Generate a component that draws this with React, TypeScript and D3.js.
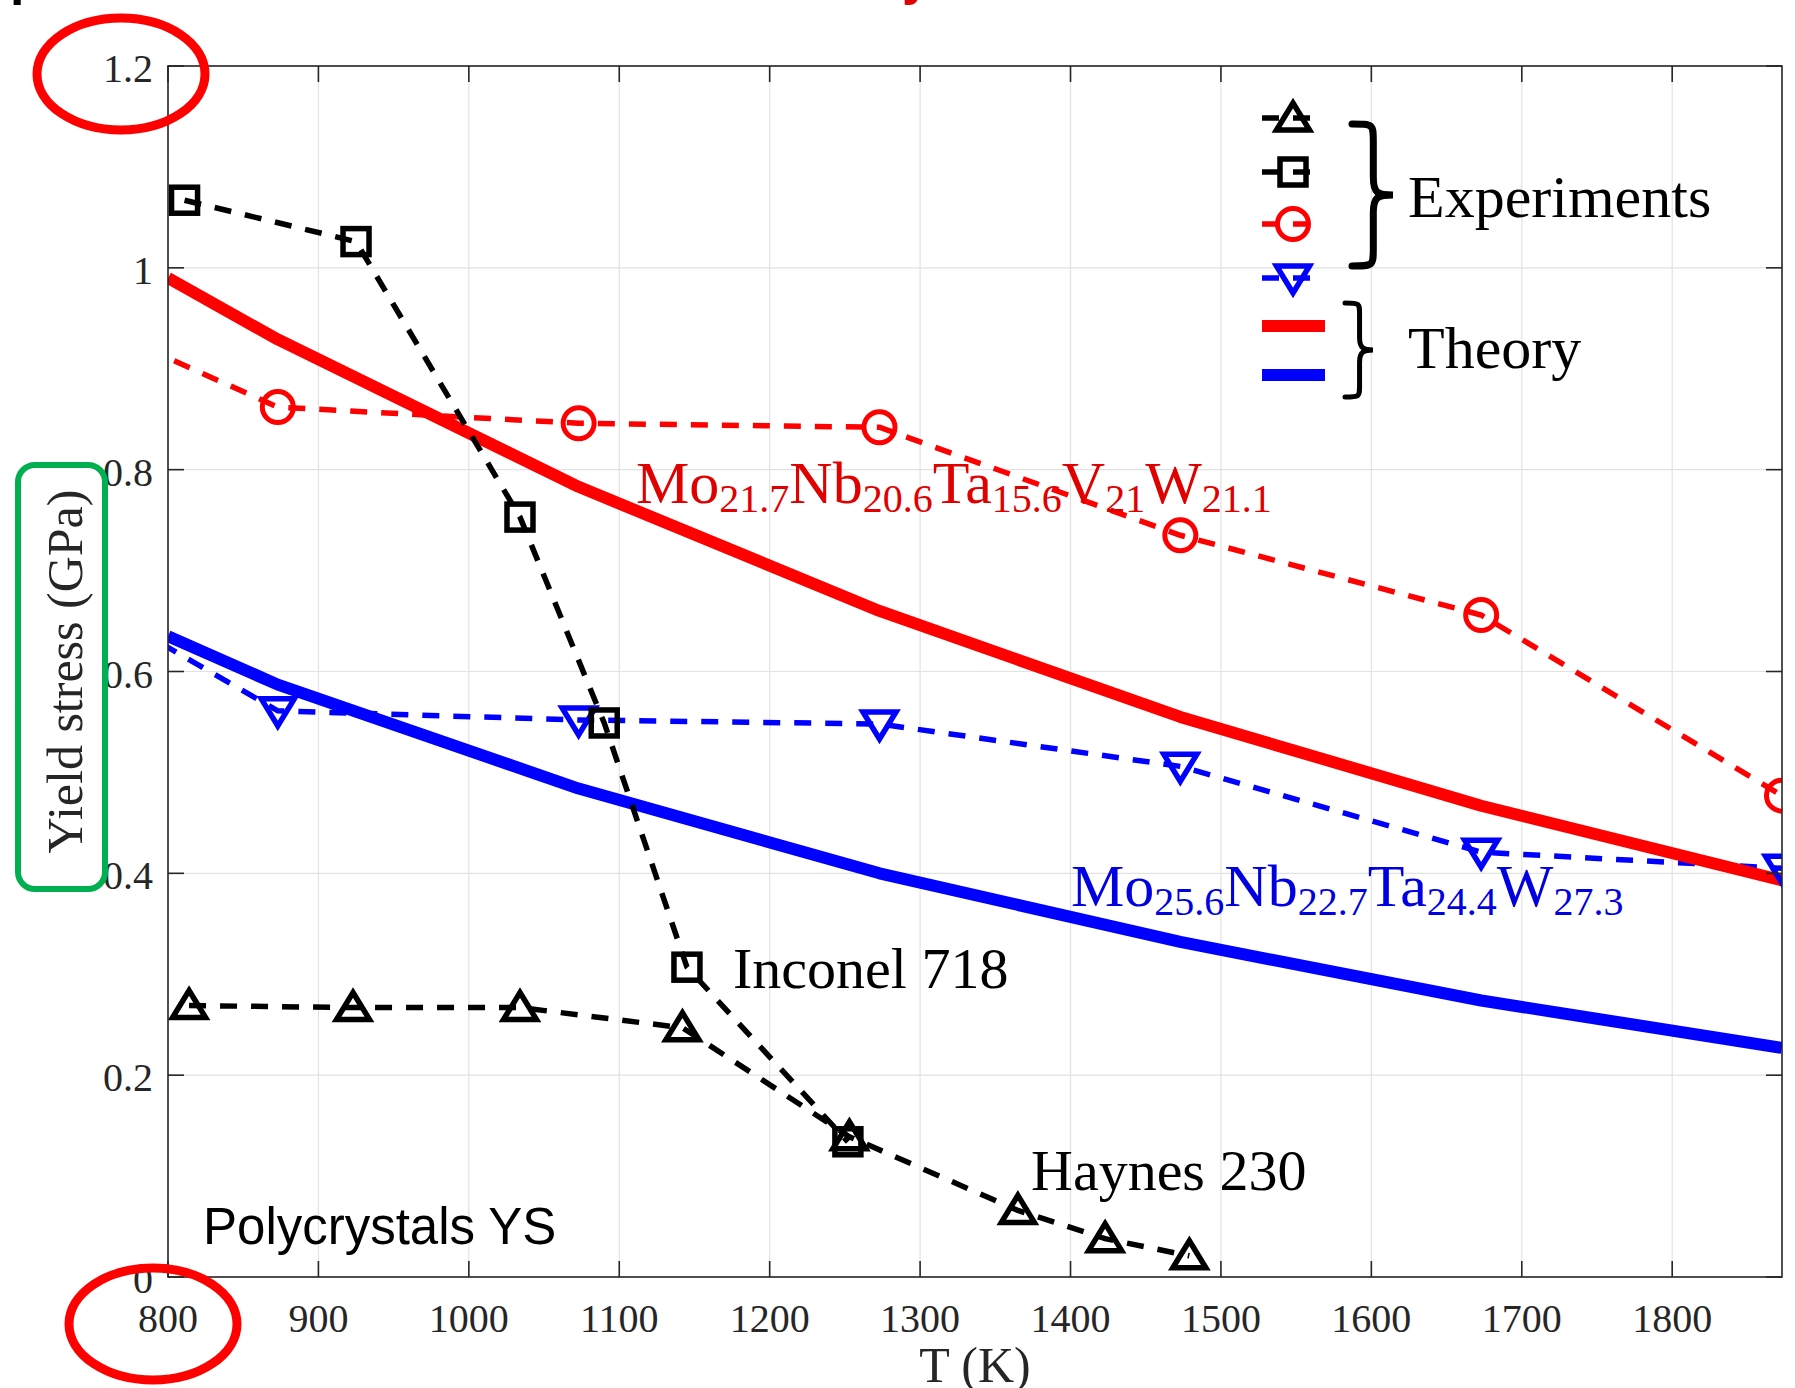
import React from "react";
import * as d3 from "d3";

// ---------- data ----------
const X_TICKS = [800, 900, 1000, 1100, 1200, 1300, 1400, 1500, 1600, 1700, 1800];
const Y_TICKS = [0, 0.2, 0.4, 0.6, 0.8, 1, 1.2];
const Y_TICK_LABELS = ["0", "0.2", "0.4", "0.6", "0.8", "1", "1.2"];

// Experiments (yield stress, GPa)
const T_HEA = [296, 873, 1073, 1273, 1473, 1673, 1873];
const MoNbTaVW_EXP = [1.246, 0.862, 0.846, 0.842, 0.735, 0.656, 0.477];
const MoNbTaW_EXP = [1.058, 0.561, 0.552, 0.548, 0.506, 0.421, 0.405];

const T_INCONEL = [811, 925, 1034, 1090, 1145, 1252];
const INCONEL_718 = [1.067, 1.026, 0.753, 0.549, 0.307, 0.134];

const T_HAYNES = [814, 923, 1034, 1142, 1253, 1365, 1423, 1479];
const HAYNES_230 = [0.269, 0.267, 0.267, 0.247, 0.139, 0.066, 0.038, 0.021];

// Theory
const T_THEORY = [800, 873, 1073, 1273, 1473, 1673, 1873];
const MoNbTaVW_TH = [0.99, 0.929, 0.783, 0.66, 0.555, 0.467, 0.393];
const MoNbTaW_TH = [0.635, 0.587, 0.484, 0.4, 0.332, 0.274, 0.227];

const RED_FORMULA = [["Mo", "21.7"], ["Nb", "20.6"], ["Ta", "15.6"], ["V", "21"], ["W", "21.1"]];
const BLUE_FORMULA = [["Mo", "25.6"], ["Nb", "22.7"], ["Ta", "24.4"], ["W", "27.3"]];

// ---------- layout ----------
const W = 1795;
const H = 1388;
const L = 168, R = 1782, TOP = 66, BOT = 1277;
const SERIF = "'Liberation Serif', 'Times New Roman', serif";
const SANS = "'Liberation Sans', Arial, sans-serif";
const AXC = "#262626";
const RED = "#ff0000";
const BLUE = "#0000ff";
const DASH = "17,14";

const x = d3.scaleLinear().domain([800, 1873]).range([L, R]);
const y = d3.scaleLinear().domain([0, 1.2]).range([BOT, TOP]);

const line = d3
  .line<[number, number]>()
  .x((d) => x(d[0]))
  .y((d) => y(d[1]));

const zip = (a: number[], b: number[]) => a.map((v, i) => [v, b[i]] as [number, number]);

type MarkerKind = "up" | "down" | "square" | "circle";

function Marker({ kind, cx, cy, color }: { kind: MarkerKind; cx: number; cy: number; color: string }) {
  const common = { fill: "none", stroke: color, strokeWidth: 5.5 };
  if (kind === "square") return <rect x={cx - 13} y={cy - 13} width={26} height={26} {...common} />;
  if (kind === "circle") return <circle cx={cx} cy={cy} r={15.5} {...common} strokeWidth={5} />;
  if (kind === "up")
    return <path d={`M${cx},${cy - 15} L${cx + 16.5},${cy + 12} L${cx - 16.5},${cy + 12} Z`} {...common} />;
  return <path d={`M${cx},${cy + 15} L${cx + 16.5},${cy - 12} L${cx - 16.5},${cy - 12} Z`} {...common} />;
}

function brace(x0: number, x1: number, y0: number, y1: number) {
  const w = x1 - x0;
  const m = (y0 + y1) / 2;
  const xv = x0 + w * 0.52;
  const r = Math.min(18, (y1 - y0) * 0.13);
  return `M${x0},${y0} C${xv},${y0} ${xv},${y0} ${xv},${y0 + r} L${xv},${m - r} C${xv},${m - 2} ${xv + 4},${m} ${x1},${m} C${xv + 4},${m} ${xv},${m + 2} ${xv},${m + r} L${xv},${y1 - r} C${xv},${y1} ${xv},${y1} ${x0},${y1}`;
}

function Formula({ parts, px, py, color }: { parts: string[][]; px: number; py: number; color: string }) {
  const items: React.ReactNode[] = [];
  parts.forEach(([el, sub], i) => {
    items.push(
      <tspan key={"e" + i} dy={i === 0 ? 0 : -9} fontSize={60}>
        {el}
      </tspan>
    );
    items.push(
      <tspan key={"s" + i} dy={9} fontSize={40}>
        {sub}
      </tspan>
    );
  });
  return (
    <text x={px} y={py} fill={color} fontFamily={SERIF}>
      {items}
    </text>
  );
}

export default function App() {
  const series = [
    { T: T_HEA, v: MoNbTaW_EXP, color: BLUE, kind: "down" as MarkerKind },
    { T: T_HEA, v: MoNbTaVW_EXP, color: RED, kind: "circle" as MarkerKind },
    { T: T_HAYNES, v: HAYNES_230, color: "#000", kind: "up" as MarkerKind },
    { T: T_INCONEL, v: INCONEL_718, color: "#000", kind: "square" as MarkerKind },
  ];

  const legendX0 = 1262, legendX1 = 1325, legendXC = 1293;
  const legendMarkers = [
    { kind: "up" as MarkerKind, color: "#000", yy: 118 },
    { kind: "square" as MarkerKind, color: "#000", yy: 172 },
    { kind: "circle" as MarkerKind, color: RED, yy: 224 },
    { kind: "down" as MarkerKind, color: BLUE, yy: 278 },
  ];

  return (
    <svg
      width={W}
      height={H}
      viewBox={`0 0 ${W} ${H}`}
      style={{ position: "absolute", left: 0, top: 0, background: "#fff" }}
    >
      <defs>
        <clipPath id="plotclip">
          <rect x={L} y={TOP} width={R - L} height={BOT - TOP} />
        </clipPath>
      </defs>
      <rect x={0} y={0} width={W} height={H} fill="#fff" />

      {/* cut-off title descenders at the very top */}
      <text x={10} y={-6} fontFamily={SANS} fontSize={52} fontWeight="bold" fill="#000">p</text>
      <text x={902} y={-6} fontFamily={SANS} fontSize={52} fontWeight="bold" fill="#e00000">y</text>

      {/* grid */}
      <g stroke="#e2e2e2" strokeWidth={1.2}>
        {X_TICKS.map((t) => (
          <line key={"gx" + t} x1={x(t)} x2={x(t)} y1={TOP} y2={BOT} />
        ))}
        {Y_TICKS.map((t) => (
          <line key={"gy" + t} x1={L} x2={R} y1={y(t)} y2={y(t)} />
        ))}
      </g>

      {/* data */}
      <g clipPath="url(#plotclip)">
        <path d={line(zip(T_HEA, MoNbTaW_EXP)) || ""} fill="none" stroke={BLUE} strokeWidth={5.5} strokeDasharray={DASH} />
        <path d={line(zip(T_THEORY, MoNbTaVW_TH)) || ""} fill="none" stroke={RED} strokeWidth={12} strokeLinejoin="round" />
        <path d={line(zip(T_THEORY, MoNbTaW_TH)) || ""} fill="none" stroke={BLUE} strokeWidth={12} strokeLinejoin="round" />
        {series.slice(1).map((s, i) => (
          <path key={"l" + i} d={line(zip(s.T, s.v)) || ""} fill="none" stroke={s.color} strokeWidth={5.5} strokeDasharray={DASH} />
        ))}
        {series.map((s, i) =>
          s.T.map((t, j) => <Marker key={`m${i}-${j}`} kind={s.kind} cx={x(t)} cy={y(s.v[j])} color={s.color} />)
        )}
      </g>

      {/* axes box + ticks */}
      <g stroke={AXC} strokeWidth={1.6} fill="none">
        <rect x={L} y={TOP} width={R - L} height={BOT - TOP} />
        {X_TICKS.map((t) => (
          <g key={"tx" + t}>
            <line x1={x(t)} x2={x(t)} y1={BOT} y2={BOT - 16} />
            <line x1={x(t)} x2={x(t)} y1={TOP} y2={TOP + 16} />
          </g>
        ))}
        {Y_TICKS.map((t) => (
          <g key={"ty" + t}>
            <line x1={L} x2={L + 16} y1={y(t)} y2={y(t)} />
            <line x1={R} x2={R - 16} y1={y(t)} y2={y(t)} />
          </g>
        ))}
      </g>

      {/* tick labels */}
      <g fontFamily={SERIF} fontSize={40} fill={AXC}>
        {X_TICKS.map((t) => (
          <text key={"xl" + t} x={x(t)} y={1332} textAnchor="middle">
            {t}
          </text>
        ))}
        {Y_TICKS.map((t, i) => (
          <text key={"yl" + t} x={153} y={y(t) + 16} textAnchor="end">
            {Y_TICK_LABELS[i]}
          </text>
        ))}
      </g>

      {/* green highlight box (white fill hides part of the tick labels) */}
      <rect x={18} y={465} width={87} height={424} rx={17} ry={17} fill="#fff" stroke="#00b050" strokeWidth={6} />

      {/* axis labels */}
      <text x={(L + R) / 2} y={1382} textAnchor="middle" fontFamily={SERIF} fontSize={50} fill={AXC}>
        T (K)
      </text>
      <text
        transform={`translate(82, ${(TOP + BOT) / 2}) rotate(-90)`}
        textAnchor="middle"
        fontFamily={SERIF}
        fontSize={50}
        fill={AXC}
      >
        Yield stress (GPa)
      </text>

      {/* annotations */}
      <Formula parts={RED_FORMULA} px={636} py={503} color="#e00000" />
      <Formula parts={BLUE_FORMULA} px={1071} py={906} color="#0000e0" />
      <text x={733} y={988} fontFamily={SERIF} fontSize={58} fill="#000">Inconel 718</text>
      <text x={1031} y={1190} fontFamily={SERIF} fontSize={58} fill="#000">Haynes 230</text>
      <text x={203} y={1244} fontFamily={SANS} fontSize={51} fill="#000">Polycrystals YS</text>

      {/* legend */}
      {legendMarkers.map((m, i) => (
        <g key={"lg" + i}>
          <line x1={legendX0} x2={1310} y1={m.yy} y2={m.yy} stroke={m.color} strokeWidth={5.5} strokeDasharray={DASH} />
          <Marker kind={m.kind} cx={legendXC} cy={m.yy} color={m.color} />
        </g>
      ))}
      <line x1={legendX0} x2={legendX1} y1={326} y2={326} stroke={RED} strokeWidth={12} />
      <line x1={legendX0} x2={legendX1} y1={375} y2={375} stroke={BLUE} strokeWidth={12} />
      <path d={brace(1352, 1393, 124, 266)} fill="none" stroke="#000" strokeWidth={7} strokeLinecap="round" />
      <path d={brace(1345, 1373, 303, 397)} fill="none" stroke="#000" strokeWidth={5} strokeLinecap="round" />
      <text x={1408} y={217} fontFamily={SERIF} fontSize={60} fill="#000">Experiments</text>
      <text x={1408} y={368} fontFamily={SERIF} fontSize={60} fill="#000">Theory</text>

      {/* highlight ellipses */}
      <ellipse cx={121} cy={74} rx={84} ry={56} fill="none" stroke="#ff0000" strokeWidth={9} />
      <ellipse cx={153} cy={1324} rx={84} ry={56} fill="none" stroke="#ff0000" strokeWidth={9} />
    </svg>
  );
}
